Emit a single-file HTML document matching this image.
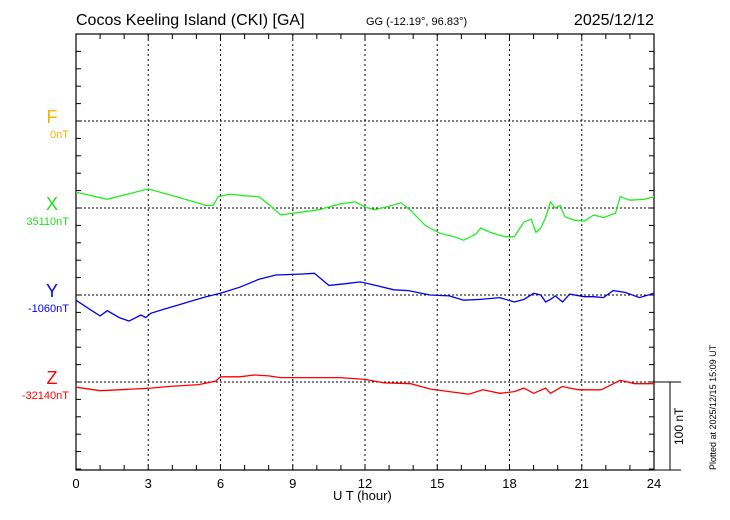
<!DOCTYPE html>
<html><head><meta charset="utf-8"><style>
html,body{margin:0;padding:0;background:#fff;}
svg{display:block;font-family:"Liberation Sans",sans-serif;}
</style></head><body>
<svg id="chart" width="730" height="520" viewBox="0 0 730 520">
<text x="76" y="25" font-size="16">Cocos Keeling Island (CKI)  [GA]</text>
<text x="366" y="25" font-size="11">GG (-12.19°,  96.83°)</text>
<text x="654" y="25" font-size="16" text-anchor="end">2025/12/12</text>
<g id="grid"></g>
<g id="series"></g>
<text x="52" y="123" font-size="18" fill="#f5b400" text-anchor="middle">F</text>
<text x="69" y="138" font-size="11" fill="#f5b400" text-anchor="end">0nT</text>
<text x="52" y="210" font-size="18" fill="#22dd22" text-anchor="middle">X</text>
<text x="69" y="225" font-size="11" fill="#22dd22" text-anchor="end">35110nT</text>
<text x="52" y="297" font-size="18" fill="#0000ee" text-anchor="middle">Y</text>
<text x="69" y="312" font-size="11" fill="#0000ee" text-anchor="end">-1060nT</text>
<text x="52" y="384" font-size="18" fill="#ff0000" text-anchor="middle">Z</text>
<text x="69" y="399" font-size="11" fill="#ff0000" text-anchor="end">-32140nT</text>
<text x="333" y="500" font-size="13">U T (hour)</text>
<text transform="translate(683,445) rotate(-90)" font-size="12">100 nT</text>
<text transform="translate(716,470) rotate(-90)" font-size="9">Plotted at 2025/12/15 15:09 UT</text>
</svg>
<script>
const xTicks=[0,3,6,9,12,15,18,21,24];
const xHours=[0,1.3,3,3.9,5.4,5.7,5.9,6.4,7,7.6,8.1,8.5,9.3,10.1,11,11.6,12,12.4,13,13.5,13.9,14.5,15.1,15.7,16.1,16.6,16.8,17.2,17.8,18.2,18.6,18.9,19.1,19.3,19.5,19.7,19.9,20.1,20.3,20.7,21.1,21.5,21.9,22.4,22.6,23,23.6,24];
const xValues=[18,10,22,15,3,3,13,16,14,13,2,-8,-5,-2,5,7,1,-2,2,6,-3,-20,-29,-33,-37,-30,-23,-28,-33,-33,-16,-13,-28,-23,-11,7,0,3,-10,-14,-15,-8,-11,-6,13,9,10,13];
const yHours=[0,0.6,1,1.3,1.8,2.2,2.7,2.9,3.1,3.7,4.3,4.9,5.4,6,6.8,7.6,8.3,9.3,9.9,10.5,11.2,11.8,12.6,13.2,13.8,14.7,15.5,16.1,16.8,17.6,18.2,18.6,19,19.3,19.5,19.7,19.9,20.2,20.5,21.1,21.5,21.9,22.3,22.8,23.4,24];
const yValues=[-6,-17,-24,-18,-26,-30,-23,-26,-21,-16,-11,-6,-2,2,9,18,23,24,25,11,13,15,10,6,5,0,-1,-6,-5,-3,-8,-5,2,0,-8,-5,-1,-8,1,-2,-2,-3,5,3,-3,2];
const zHours=[0,1,1.8,3.1,3.9,5.1,5.8,6,6.8,7.4,8,8.5,9,10.1,11,12,12.8,13.9,14.7,15.5,16.3,16.9,17.6,18.2,18.6,19,19.5,19.7,20.2,20.5,20.9,21.8,22.6,23.2,24];
const zValues=[-6,-10,-9,-7,-5,-3,1,6,6,8,7,5,5,5,5,3,-1,-2,-8,-11,-14,-9,-13,-11,-7,-13,-7,-13,-5,-7,-9,-9,2,-2,-2];
const NS='http://www.w3.org/2000/svg';
const L=76,R=654,T=34,B=470,PXNT=0.87;
const xs=h=>L+(R-L)*h/24;
function mk(tag,attrs,parent){const e=document.createElementNS(NS,tag);for(const k in attrs)e.setAttribute(k,attrs[k]);parent.appendChild(e);return e;}
const g=document.getElementById('grid');
let fr=mk('rect',{x:L,y:T,width:R-L,height:B-T,fill:'none',stroke:'#000','stroke-width':1.2},g);


xTicks.forEach(t=>{
  const x=xs(t);
  if(t>0&&t<24){const l=mk('line',{x1:x,y1:T,x2:x,y2:B,stroke:'#000','stroke-dasharray':'2,3','stroke-width':1},g);
  
  }
  const tx=mk('text',{x:x,y:B+18,'font-size':13,'text-anchor':'middle'},g);tx.textContent=t;
  
  
});
for(let h=1;h<24;h++){const x=xs(h);mk('line',{x1:x,y1:T,x2:x,y2:T+5,stroke:'#000'},g);mk('line',{x1:x,y1:B,x2:x,y2:B-5,stroke:'#000'},g);}
for(let y=T;y<=B;y+=20*PXNT){mk('line',{x1:L,y1:y,x2:L+5,y2:y,stroke:'#000'},g);mk('line',{x1:R,y1:y,x2:R-5,y2:y,stroke:'#000'},g);}
const bases=[121,208,295,382];
bases.forEach(b=>{const l=mk('line',{x1:L,y1:b,x2:R,y2:b,stroke:'#000','stroke-dasharray':'2,2'},g);

});
mk('line',{x1:R,y1:382,x2:681,y2:382,stroke:'#000'},g);
mk('line',{x1:R,y1:B,x2:681,y2:B,stroke:'#000'},g);
const sb=mk('line',{x1:670,y1:382,x2:670,y2:B,stroke:'#000'},g);


const s=document.getElementById('series');
function draw(hours,vals,base,color,name){
  const d=hours.map((h,i)=>(i?'L':'M')+xs(h).toFixed(1)+','+(base-vals[i]*PXNT).toFixed(1)).join(' ');
  const p=mk('path',{d:d,fill:'none',stroke:color,'stroke-width':1.3},s);
  
  
}
draw(xHours,xValues,208,'#22ee22','x-component-line');
draw(yHours,yValues,295,'#0000ee','y-component-line');
draw(zHours,zValues,382,'#ff0000','z-component-line');
</script>
</body></html>
